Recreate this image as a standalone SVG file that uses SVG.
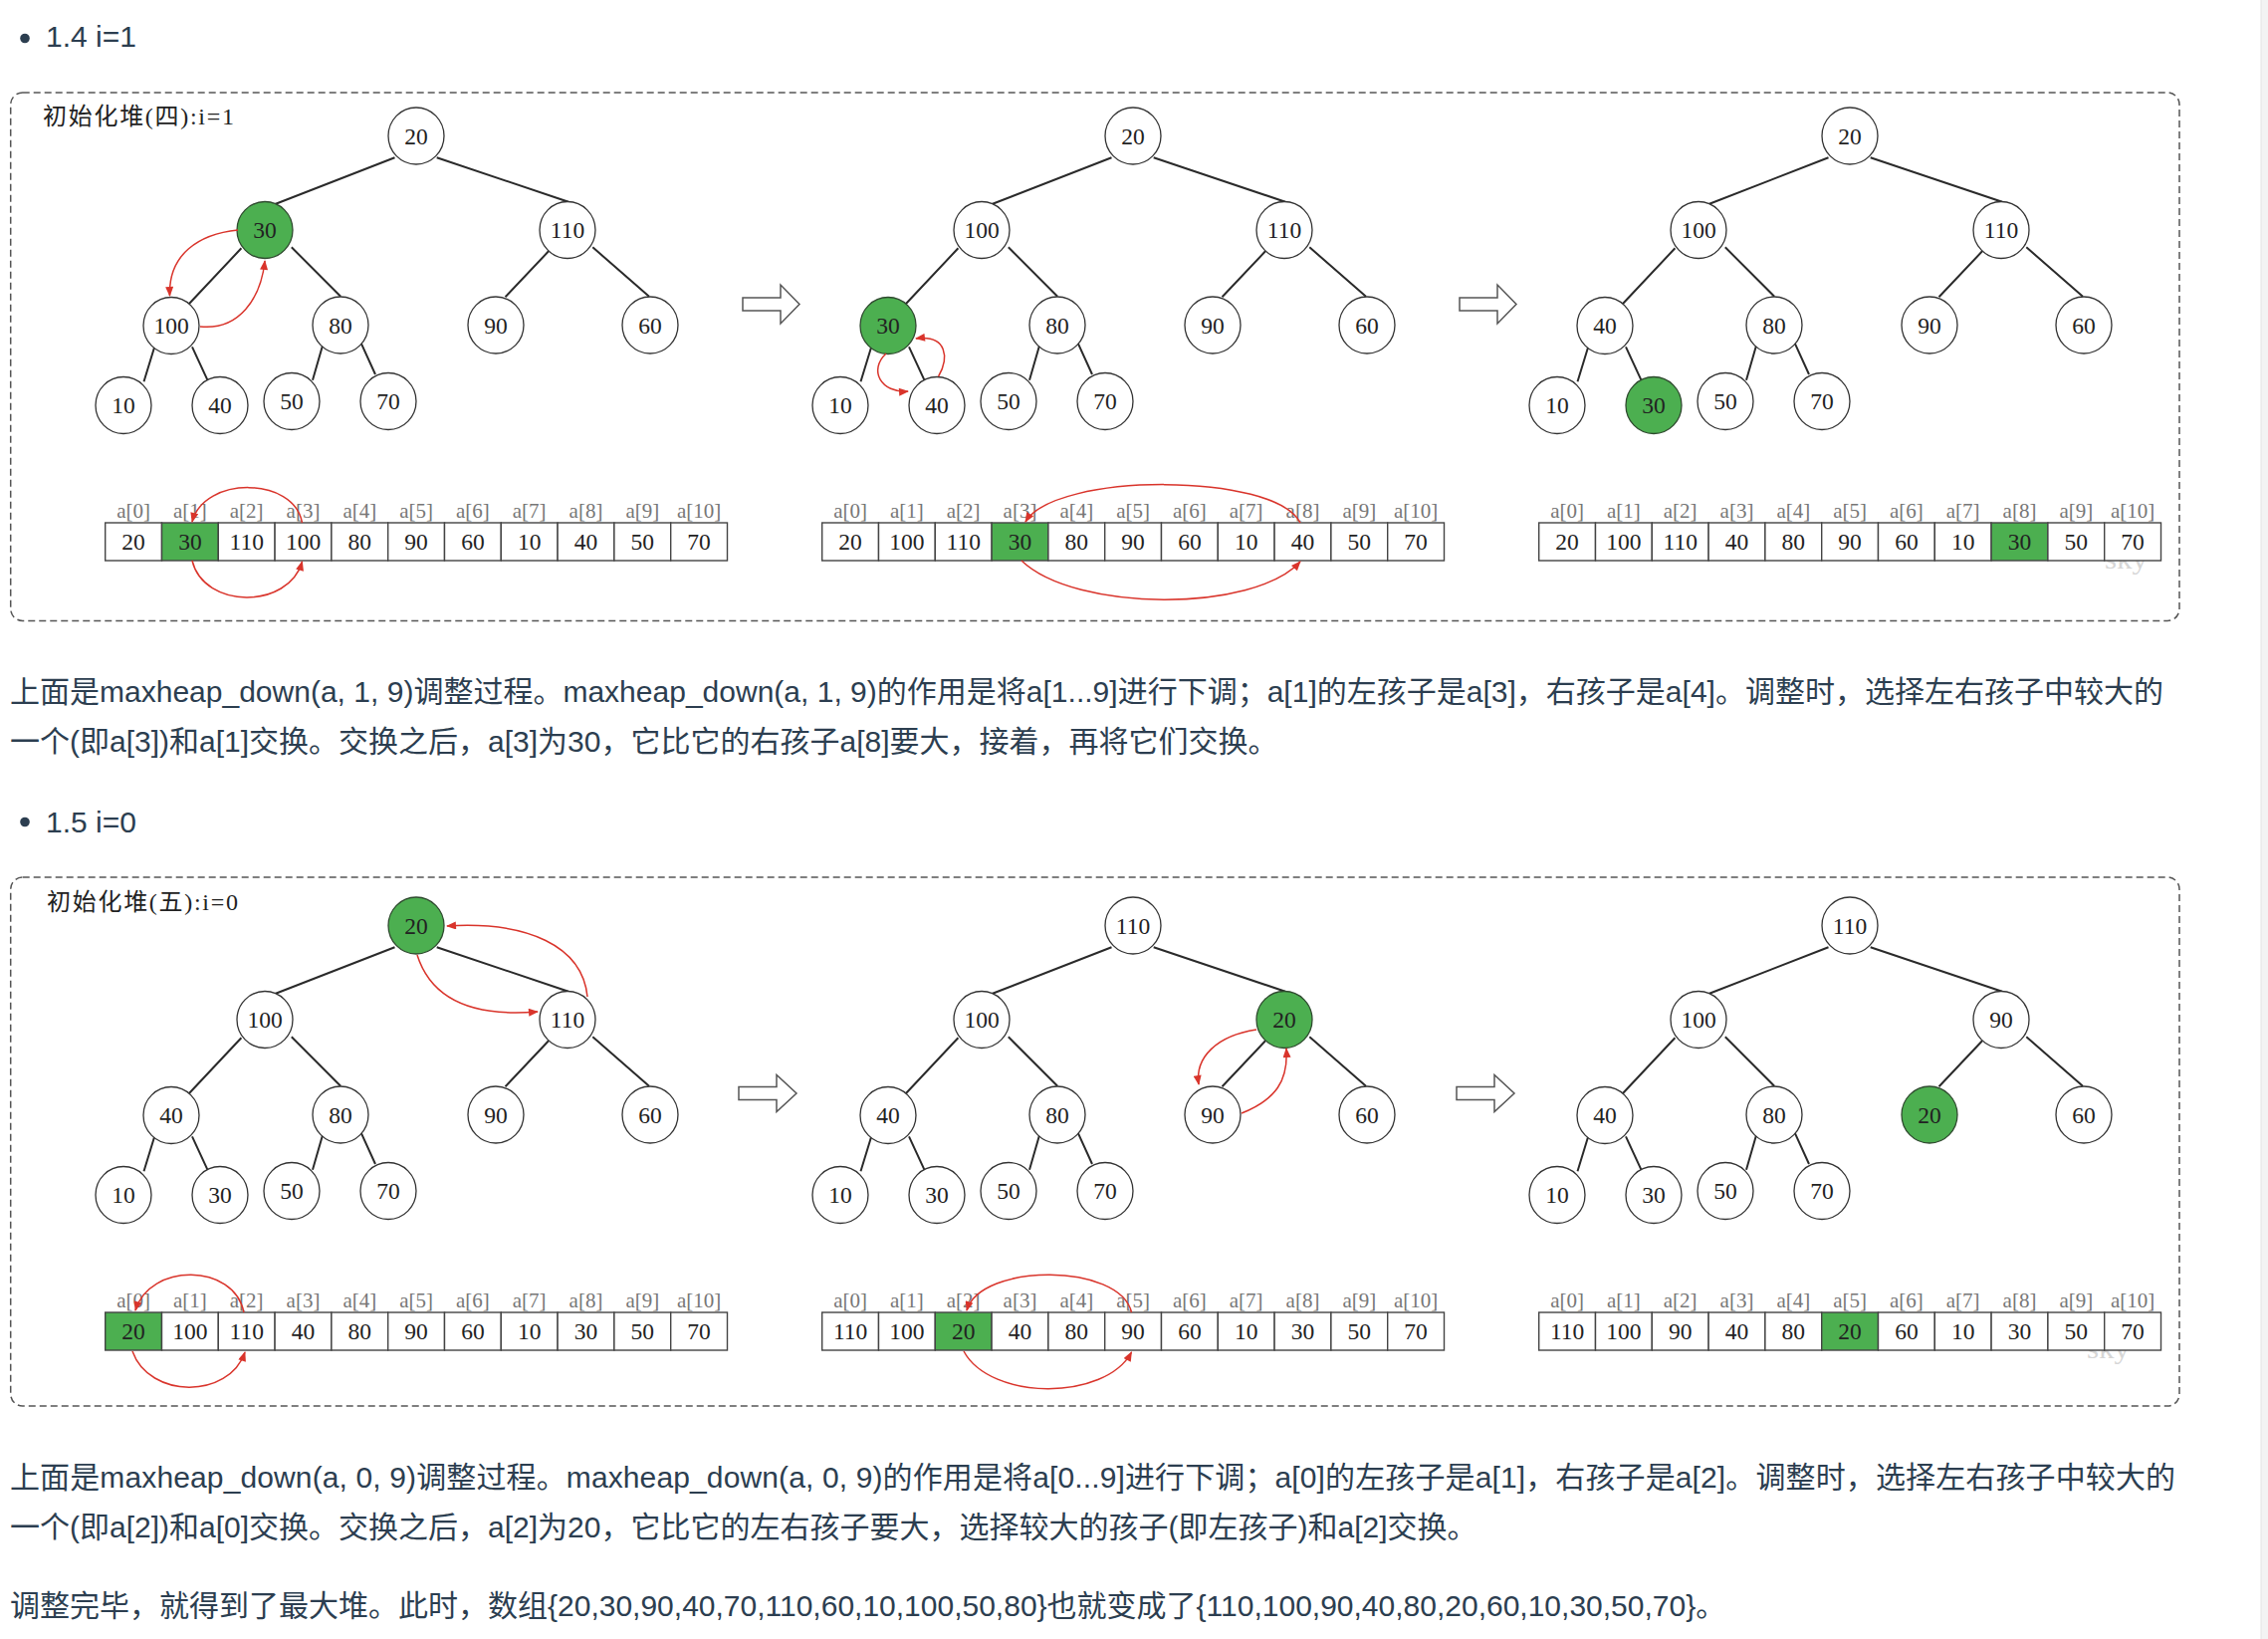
<svg xmlns="http://www.w3.org/2000/svg" width="2278" height="1646" viewBox="0 0 2278 1646">
<defs>
<style>
.ed{stroke:#2a2a2a;stroke-width:2;fill:none}
.nd ellipse{fill:#fff;stroke:#333;stroke-width:1.3}
.nd.g ellipse{fill:#4caf50;stroke:#2f4a2f}
.nd text,.ct{font-family:"Liberation Serif",serif;font-size:23.5px;fill:#222;text-anchor:middle}
.cell{fill:#fff;stroke:#444;stroke-width:1.4}
.cell.g{fill:#4caf50}
.lb{font-family:"Liberation Serif",serif;font-size:21px;fill:#777;text-anchor:middle}
.sw{fill:none;stroke:#d9342b;stroke-width:1.5;marker-end:url(#ah)}
.box{fill:none;stroke:#555;stroke-width:1.5;stroke-dasharray:7 4}
.hol{fill:#fff;stroke:#555;stroke-width:1.5}
.para{font-family:"Liberation Sans","Noto Sans CJK SC",sans-serif;font-size:30px;fill:#2c3e50}
.ttl{font-family:"Liberation Serif","Noto Sans CJK SC",serif;font-size:24px;fill:#222}
.wm{font-family:"Liberation Serif",serif;font-size:28px;fill:#d6d6d6}
</style>
<marker id="ah" viewBox="0 0 10 8" refX="9" refY="4" markerWidth="11" markerHeight="8" markerUnits="userSpaceOnUse" orient="auto"><path d="M0,0 L10,4 L0,8 z" fill="#d9342b"/></marker>
</defs>
<rect width="2278" height="1646" fill="#fff"/>
<rect x="2271" y="0" width="7" height="1646" fill="#f3f3f3"/>
<line x1="2271" y1="0" x2="2271" y2="1646" stroke="#e4e4e4" stroke-width="1"/>

<!-- headings and paragraphs -->
<circle cx="25" cy="38.5" r="4.8" fill="#2c3e50"/>
<text class="para" x="46" y="47">1.4 i=1</text>
<text class="para" x="10" y="705" textLength="2163" lengthAdjust="spacing">上面是maxheap_down(a, 1, 9)调整过程。maxheap_down(a, 1, 9)的作用是将a[1...9]进行下调；a[1]的左孩子是a[3]，右孩子是a[4]。调整时，选择左右孩子中较大的</text>
<text class="para" x="10" y="755">一个(即a[3])和a[1]交换。交换之后，a[3]为30，它比它的右孩子a[8]要大，接着，再将它们交换。</text>
<circle cx="25" cy="825.5" r="4.8" fill="#2c3e50"/>
<text class="para" x="46" y="836">1.5 i=0</text>
<text class="para" x="10" y="1494" textLength="2175" lengthAdjust="spacing">上面是maxheap_down(a, 0, 9)调整过程。maxheap_down(a, 0, 9)的作用是将a[0...9]进行下调；a[0]的左孩子是a[1]，右孩子是a[2]。调整时，选择左右孩子中较大的</text>
<text class="para" x="10" y="1544">一个(即a[2])和a[0]交换。交换之后，a[2]为20，它比它的左右孩子要大，选择较大的孩子(即左孩子)和a[2]交换。</text>
<text class="para" x="10" y="1623">调整完毕，就得到了最大堆。此时，数组{20,30,90,40,70,110,60,10,100,50,80}也就变成了{110,100,90,40,80,20,60,10,30,50,70}。</text>

<!-- frames -->
<g id="frame-1">
<rect class="box" x="10.7" y="93" width="2178.3" height="530.5" rx="12"/>
<text class="ttl" x="43" y="125" textLength="192" lengthAdjust="spacing">初始化堆(四):i=1</text>
<text class="wm" x="2114" y="571" textLength="43" lengthAdjust="spacingAndGlyphs">sky</text>
</g>
<g id="frame-2">
<rect class="box" x="10.7" y="881" width="2178.3" height="531" rx="12"/>
<text class="ttl" x="47" y="914" textLength="192" lengthAdjust="spacing">初始化堆(五):i=0</text>
<text class="wm" x="2096" y="1364" textLength="43" lengthAdjust="spacingAndGlyphs">sky</text>
</g>

<!-- connectors -->
<g id="connectors">
<g id="edges-a"><path class="ed" d="M396.5,158.3 L276.3,205 M438.7,158.3 L571,202.7 M242.4,249.3 L190,305 M292.8,248.3 L342.2,297.7 M551,252.3 L507.5,298.3 M595.3,248.3 L652,297.7 M155,349 L144.5,383.3 M193,348.3 L208.4,381.7 M323.8,347.7 L314,381.7 M362.6,344.3 L377,376"/></g>
<g id="edges-b" transform="translate(720,0)"><path class="ed" d="M396.5,158.3 L276.3,205 M438.7,158.3 L571,202.7 M242.4,249.3 L190,305 M292.8,248.3 L342.2,297.7 M551,252.3 L507.5,298.3 M595.3,248.3 L652,297.7 M155,349 L144.5,383.3 M193,348.3 L208.4,381.7 M323.8,347.7 L314,381.7 M362.6,344.3 L377,376"/></g>
<g id="edges-c" transform="translate(1440,0)"><path class="ed" d="M396.5,158.3 L276.3,205 M438.7,158.3 L571,202.7 M242.4,249.3 L190,305 M292.8,248.3 L342.2,297.7 M551,252.3 L507.5,298.3 M595.3,248.3 L652,297.7 M155,349 L144.5,383.3 M193,348.3 L208.4,381.7 M323.8,347.7 L314,381.7 M362.6,344.3 L377,376"/></g>
<g id="edges-d" transform="translate(0,793)"><path class="ed" d="M396.5,158.3 L276.3,205 M438.7,158.3 L571,202.7 M242.4,249.3 L190,305 M292.8,248.3 L342.2,297.7 M551,252.3 L507.5,298.3 M595.3,248.3 L652,297.7 M155,349 L144.5,383.3 M193,348.3 L208.4,381.7 M323.8,347.7 L314,381.7 M362.6,344.3 L377,376"/></g>
<g id="edges-e" transform="translate(720,793)"><path class="ed" d="M396.5,158.3 L276.3,205 M438.7,158.3 L571,202.7 M242.4,249.3 L190,305 M292.8,248.3 L342.2,297.7 M551,252.3 L507.5,298.3 M595.3,248.3 L652,297.7 M155,349 L144.5,383.3 M193,348.3 L208.4,381.7 M323.8,347.7 L314,381.7 M362.6,344.3 L377,376"/></g>
<g id="edges-f" transform="translate(1440,793)"><path class="ed" d="M396.5,158.3 L276.3,205 M438.7,158.3 L571,202.7 M242.4,249.3 L190,305 M292.8,248.3 L342.2,297.7 M551,252.3 L507.5,298.3 M595.3,248.3 L652,297.7 M155,349 L144.5,383.3 M193,348.3 L208.4,381.7 M323.8,347.7 L314,381.7 M362.6,344.3 L377,376"/></g>
<g id="step-arrows">
<polygon class="hol" points="746,299 784,299 784,286 803,305.5 784,325 784,312 746,312"/>
<polygon class="hol" points="1466,299 1504,299 1504,286 1523,305.5 1504,325 1504,312 1466,312"/>
<polygon class="hol" points="742,1091.5 780,1091.5 780,1079.5 800,1098 780,1116.5 780,1104.5 742,1104.5"/>
<polygon class="hol" points="1463,1091.5 1501,1091.5 1501,1079.5 1521,1098 1501,1116.5 1501,1104.5 1463,1104.5"/>
</g>
</g>

<!-- trees -->
<g id="tree-a">
<g id="a-n0" class="nd"><ellipse cx="418" cy="136.5" rx="28" ry="28.5"/><text x="418" y="144.5">20</text></g>
<g id="a-n1" class="nd g"><ellipse cx="266" cy="231" rx="28" ry="28.5"/><text x="266" y="239">30</text></g>
<g id="a-n2" class="nd"><ellipse cx="570" cy="231" rx="28" ry="28.5"/><text x="570" y="239">110</text></g>
<g id="a-n3" class="nd"><ellipse cx="172" cy="327" rx="28" ry="28.5"/><text x="172" y="335">100</text></g>
<g id="a-n4" class="nd"><ellipse cx="342" cy="326.5" rx="28" ry="28.5"/><text x="342" y="334.5">80</text></g>
<g id="a-n5" class="nd"><ellipse cx="498" cy="326.5" rx="28" ry="28.5"/><text x="498" y="334.5">90</text></g>
<g id="a-n6" class="nd"><ellipse cx="653" cy="326.5" rx="28" ry="28.5"/><text x="653" y="334.5">60</text></g>
<g id="a-n7" class="nd"><ellipse cx="124" cy="407" rx="28" ry="28.5"/><text x="124" y="415">10</text></g>
<g id="a-n8" class="nd"><ellipse cx="221" cy="407" rx="28" ry="28.5"/><text x="221" y="415">40</text></g>
<g id="a-n9" class="nd"><ellipse cx="293" cy="403" rx="28" ry="28.5"/><text x="293" y="411">50</text></g>
<g id="a-n10" class="nd"><ellipse cx="390" cy="403" rx="28" ry="28.5"/><text x="390" y="411">70</text></g>
</g>
<g id="tree-b" transform="translate(720,0)">
<g id="b-n0" class="nd"><ellipse cx="418" cy="136.5" rx="28" ry="28.5"/><text x="418" y="144.5">20</text></g>
<g id="b-n1" class="nd"><ellipse cx="266" cy="231" rx="28" ry="28.5"/><text x="266" y="239">100</text></g>
<g id="b-n2" class="nd"><ellipse cx="570" cy="231" rx="28" ry="28.5"/><text x="570" y="239">110</text></g>
<g id="b-n3" class="nd g"><ellipse cx="172" cy="327" rx="28" ry="28.5"/><text x="172" y="335">30</text></g>
<g id="b-n4" class="nd"><ellipse cx="342" cy="326.5" rx="28" ry="28.5"/><text x="342" y="334.5">80</text></g>
<g id="b-n5" class="nd"><ellipse cx="498" cy="326.5" rx="28" ry="28.5"/><text x="498" y="334.5">90</text></g>
<g id="b-n6" class="nd"><ellipse cx="653" cy="326.5" rx="28" ry="28.5"/><text x="653" y="334.5">60</text></g>
<g id="b-n7" class="nd"><ellipse cx="124" cy="407" rx="28" ry="28.5"/><text x="124" y="415">10</text></g>
<g id="b-n8" class="nd"><ellipse cx="221" cy="407" rx="28" ry="28.5"/><text x="221" y="415">40</text></g>
<g id="b-n9" class="nd"><ellipse cx="293" cy="403" rx="28" ry="28.5"/><text x="293" y="411">50</text></g>
<g id="b-n10" class="nd"><ellipse cx="390" cy="403" rx="28" ry="28.5"/><text x="390" y="411">70</text></g>
</g>
<g id="tree-c" transform="translate(1440,0)">
<g id="c-n0" class="nd"><ellipse cx="418" cy="136.5" rx="28" ry="28.5"/><text x="418" y="144.5">20</text></g>
<g id="c-n1" class="nd"><ellipse cx="266" cy="231" rx="28" ry="28.5"/><text x="266" y="239">100</text></g>
<g id="c-n2" class="nd"><ellipse cx="570" cy="231" rx="28" ry="28.5"/><text x="570" y="239">110</text></g>
<g id="c-n3" class="nd"><ellipse cx="172" cy="327" rx="28" ry="28.5"/><text x="172" y="335">40</text></g>
<g id="c-n4" class="nd"><ellipse cx="342" cy="326.5" rx="28" ry="28.5"/><text x="342" y="334.5">80</text></g>
<g id="c-n5" class="nd"><ellipse cx="498" cy="326.5" rx="28" ry="28.5"/><text x="498" y="334.5">90</text></g>
<g id="c-n6" class="nd"><ellipse cx="653" cy="326.5" rx="28" ry="28.5"/><text x="653" y="334.5">60</text></g>
<g id="c-n7" class="nd"><ellipse cx="124" cy="407" rx="28" ry="28.5"/><text x="124" y="415">10</text></g>
<g id="c-n8" class="nd g"><ellipse cx="221" cy="407" rx="28" ry="28.5"/><text x="221" y="415">30</text></g>
<g id="c-n9" class="nd"><ellipse cx="293" cy="403" rx="28" ry="28.5"/><text x="293" y="411">50</text></g>
<g id="c-n10" class="nd"><ellipse cx="390" cy="403" rx="28" ry="28.5"/><text x="390" y="411">70</text></g>
</g>
<g id="tree-d" transform="translate(0,793)">
<g id="d-n0" class="nd g"><ellipse cx="418" cy="136.5" rx="28" ry="28.5"/><text x="418" y="144.5">20</text></g>
<g id="d-n1" class="nd"><ellipse cx="266" cy="231" rx="28" ry="28.5"/><text x="266" y="239">100</text></g>
<g id="d-n2" class="nd"><ellipse cx="570" cy="231" rx="28" ry="28.5"/><text x="570" y="239">110</text></g>
<g id="d-n3" class="nd"><ellipse cx="172" cy="327" rx="28" ry="28.5"/><text x="172" y="335">40</text></g>
<g id="d-n4" class="nd"><ellipse cx="342" cy="326.5" rx="28" ry="28.5"/><text x="342" y="334.5">80</text></g>
<g id="d-n5" class="nd"><ellipse cx="498" cy="326.5" rx="28" ry="28.5"/><text x="498" y="334.5">90</text></g>
<g id="d-n6" class="nd"><ellipse cx="653" cy="326.5" rx="28" ry="28.5"/><text x="653" y="334.5">60</text></g>
<g id="d-n7" class="nd"><ellipse cx="124" cy="407" rx="28" ry="28.5"/><text x="124" y="415">10</text></g>
<g id="d-n8" class="nd"><ellipse cx="221" cy="407" rx="28" ry="28.5"/><text x="221" y="415">30</text></g>
<g id="d-n9" class="nd"><ellipse cx="293" cy="403" rx="28" ry="28.5"/><text x="293" y="411">50</text></g>
<g id="d-n10" class="nd"><ellipse cx="390" cy="403" rx="28" ry="28.5"/><text x="390" y="411">70</text></g>
</g>
<g id="tree-e" transform="translate(720,793)">
<g id="e-n0" class="nd"><ellipse cx="418" cy="136.5" rx="28" ry="28.5"/><text x="418" y="144.5">110</text></g>
<g id="e-n1" class="nd"><ellipse cx="266" cy="231" rx="28" ry="28.5"/><text x="266" y="239">100</text></g>
<g id="e-n2" class="nd g"><ellipse cx="570" cy="231" rx="28" ry="28.5"/><text x="570" y="239">20</text></g>
<g id="e-n3" class="nd"><ellipse cx="172" cy="327" rx="28" ry="28.5"/><text x="172" y="335">40</text></g>
<g id="e-n4" class="nd"><ellipse cx="342" cy="326.5" rx="28" ry="28.5"/><text x="342" y="334.5">80</text></g>
<g id="e-n5" class="nd"><ellipse cx="498" cy="326.5" rx="28" ry="28.5"/><text x="498" y="334.5">90</text></g>
<g id="e-n6" class="nd"><ellipse cx="653" cy="326.5" rx="28" ry="28.5"/><text x="653" y="334.5">60</text></g>
<g id="e-n7" class="nd"><ellipse cx="124" cy="407" rx="28" ry="28.5"/><text x="124" y="415">10</text></g>
<g id="e-n8" class="nd"><ellipse cx="221" cy="407" rx="28" ry="28.5"/><text x="221" y="415">30</text></g>
<g id="e-n9" class="nd"><ellipse cx="293" cy="403" rx="28" ry="28.5"/><text x="293" y="411">50</text></g>
<g id="e-n10" class="nd"><ellipse cx="390" cy="403" rx="28" ry="28.5"/><text x="390" y="411">70</text></g>
</g>
<g id="tree-f" transform="translate(1440,793)">
<g id="f-n0" class="nd"><ellipse cx="418" cy="136.5" rx="28" ry="28.5"/><text x="418" y="144.5">110</text></g>
<g id="f-n1" class="nd"><ellipse cx="266" cy="231" rx="28" ry="28.5"/><text x="266" y="239">100</text></g>
<g id="f-n2" class="nd"><ellipse cx="570" cy="231" rx="28" ry="28.5"/><text x="570" y="239">90</text></g>
<g id="f-n3" class="nd"><ellipse cx="172" cy="327" rx="28" ry="28.5"/><text x="172" y="335">40</text></g>
<g id="f-n4" class="nd"><ellipse cx="342" cy="326.5" rx="28" ry="28.5"/><text x="342" y="334.5">80</text></g>
<g id="f-n5" class="nd g"><ellipse cx="498" cy="326.5" rx="28" ry="28.5"/><text x="498" y="334.5">20</text></g>
<g id="f-n6" class="nd"><ellipse cx="653" cy="326.5" rx="28" ry="28.5"/><text x="653" y="334.5">60</text></g>
<g id="f-n7" class="nd"><ellipse cx="124" cy="407" rx="28" ry="28.5"/><text x="124" y="415">10</text></g>
<g id="f-n8" class="nd"><ellipse cx="221" cy="407" rx="28" ry="28.5"/><text x="221" y="415">30</text></g>
<g id="f-n9" class="nd"><ellipse cx="293" cy="403" rx="28" ry="28.5"/><text x="293" y="411">50</text></g>
<g id="f-n10" class="nd"><ellipse cx="390" cy="403" rx="28" ry="28.5"/><text x="390" y="411">70</text></g>
</g>

<!-- arrays -->
<g id="array-a">
<g class="lb"><text x="134.1" y="520">a[0]</text><text x="190.9" y="520">a[1]</text><text x="247.7" y="520">a[2]</text><text x="304.5" y="520">a[3]</text><text x="361.3" y="520">a[4]</text><text x="418.1" y="520">a[5]</text><text x="474.9" y="520">a[6]</text><text x="531.7" y="520">a[7]</text><text x="588.5" y="520">a[8]</text><text x="645.3" y="520">a[9]</text><text x="702.1" y="520">a[10]</text></g>
<rect class="cell" x="105.7" y="525" width="56.8" height="38"/><rect class="cell g" x="162.5" y="525" width="56.8" height="38"/><rect class="cell" x="219.3" y="525" width="56.8" height="38"/><rect class="cell" x="276.1" y="525" width="56.8" height="38"/><rect class="cell" x="332.9" y="525" width="56.8" height="38"/><rect class="cell" x="389.7" y="525" width="56.8" height="38"/><rect class="cell" x="446.5" y="525" width="56.8" height="38"/><rect class="cell" x="503.3" y="525" width="56.8" height="38"/><rect class="cell" x="560.1" y="525" width="56.8" height="38"/><rect class="cell" x="616.9" y="525" width="56.8" height="38"/><rect class="cell" x="673.7" y="525" width="56.8" height="38"/>
<g class="ct"><text x="134.1" y="552">20</text><text x="190.9" y="552">30</text><text x="247.7" y="552">110</text><text x="304.5" y="552">100</text><text x="361.3" y="552">80</text><text x="418.1" y="552">90</text><text x="474.9" y="552">60</text><text x="531.7" y="552">10</text><text x="588.5" y="552">40</text><text x="645.3" y="552">50</text><text x="702.1" y="552">70</text></g>
</g>
<g id="array-b" transform="translate(720,0)">
<g class="lb"><text x="134.1" y="520">a[0]</text><text x="190.9" y="520">a[1]</text><text x="247.7" y="520">a[2]</text><text x="304.5" y="520">a[3]</text><text x="361.3" y="520">a[4]</text><text x="418.1" y="520">a[5]</text><text x="474.9" y="520">a[6]</text><text x="531.7" y="520">a[7]</text><text x="588.5" y="520">a[8]</text><text x="645.3" y="520">a[9]</text><text x="702.1" y="520">a[10]</text></g>
<rect class="cell" x="105.7" y="525" width="56.8" height="38"/><rect class="cell" x="162.5" y="525" width="56.8" height="38"/><rect class="cell" x="219.3" y="525" width="56.8" height="38"/><rect class="cell g" x="276.1" y="525" width="56.8" height="38"/><rect class="cell" x="332.9" y="525" width="56.8" height="38"/><rect class="cell" x="389.7" y="525" width="56.8" height="38"/><rect class="cell" x="446.5" y="525" width="56.8" height="38"/><rect class="cell" x="503.3" y="525" width="56.8" height="38"/><rect class="cell" x="560.1" y="525" width="56.8" height="38"/><rect class="cell" x="616.9" y="525" width="56.8" height="38"/><rect class="cell" x="673.7" y="525" width="56.8" height="38"/>
<g class="ct"><text x="134.1" y="552">20</text><text x="190.9" y="552">100</text><text x="247.7" y="552">110</text><text x="304.5" y="552">30</text><text x="361.3" y="552">80</text><text x="418.1" y="552">90</text><text x="474.9" y="552">60</text><text x="531.7" y="552">10</text><text x="588.5" y="552">40</text><text x="645.3" y="552">50</text><text x="702.1" y="552">70</text></g>
</g>
<g id="array-c" transform="translate(1440,0)">
<g class="lb"><text x="134.1" y="520">a[0]</text><text x="190.9" y="520">a[1]</text><text x="247.7" y="520">a[2]</text><text x="304.5" y="520">a[3]</text><text x="361.3" y="520">a[4]</text><text x="418.1" y="520">a[5]</text><text x="474.9" y="520">a[6]</text><text x="531.7" y="520">a[7]</text><text x="588.5" y="520">a[8]</text><text x="645.3" y="520">a[9]</text><text x="702.1" y="520">a[10]</text></g>
<rect class="cell" x="105.7" y="525" width="56.8" height="38"/><rect class="cell" x="162.5" y="525" width="56.8" height="38"/><rect class="cell" x="219.3" y="525" width="56.8" height="38"/><rect class="cell" x="276.1" y="525" width="56.8" height="38"/><rect class="cell" x="332.9" y="525" width="56.8" height="38"/><rect class="cell" x="389.7" y="525" width="56.8" height="38"/><rect class="cell" x="446.5" y="525" width="56.8" height="38"/><rect class="cell" x="503.3" y="525" width="56.8" height="38"/><rect class="cell g" x="560.1" y="525" width="56.8" height="38"/><rect class="cell" x="616.9" y="525" width="56.8" height="38"/><rect class="cell" x="673.7" y="525" width="56.8" height="38"/>
<g class="ct"><text x="134.1" y="552">20</text><text x="190.9" y="552">100</text><text x="247.7" y="552">110</text><text x="304.5" y="552">40</text><text x="361.3" y="552">80</text><text x="418.1" y="552">90</text><text x="474.9" y="552">60</text><text x="531.7" y="552">10</text><text x="588.5" y="552">30</text><text x="645.3" y="552">50</text><text x="702.1" y="552">70</text></g>
</g>
<g id="array-d" transform="translate(0,793)">
<g class="lb"><text x="134.1" y="520">a[0]</text><text x="190.9" y="520">a[1]</text><text x="247.7" y="520">a[2]</text><text x="304.5" y="520">a[3]</text><text x="361.3" y="520">a[4]</text><text x="418.1" y="520">a[5]</text><text x="474.9" y="520">a[6]</text><text x="531.7" y="520">a[7]</text><text x="588.5" y="520">a[8]</text><text x="645.3" y="520">a[9]</text><text x="702.1" y="520">a[10]</text></g>
<rect class="cell g" x="105.7" y="525" width="56.8" height="38"/><rect class="cell" x="162.5" y="525" width="56.8" height="38"/><rect class="cell" x="219.3" y="525" width="56.8" height="38"/><rect class="cell" x="276.1" y="525" width="56.8" height="38"/><rect class="cell" x="332.9" y="525" width="56.8" height="38"/><rect class="cell" x="389.7" y="525" width="56.8" height="38"/><rect class="cell" x="446.5" y="525" width="56.8" height="38"/><rect class="cell" x="503.3" y="525" width="56.8" height="38"/><rect class="cell" x="560.1" y="525" width="56.8" height="38"/><rect class="cell" x="616.9" y="525" width="56.8" height="38"/><rect class="cell" x="673.7" y="525" width="56.8" height="38"/>
<g class="ct"><text x="134.1" y="552">20</text><text x="190.9" y="552">100</text><text x="247.7" y="552">110</text><text x="304.5" y="552">40</text><text x="361.3" y="552">80</text><text x="418.1" y="552">90</text><text x="474.9" y="552">60</text><text x="531.7" y="552">10</text><text x="588.5" y="552">30</text><text x="645.3" y="552">50</text><text x="702.1" y="552">70</text></g>
</g>
<g id="array-e" transform="translate(720,793)">
<g class="lb"><text x="134.1" y="520">a[0]</text><text x="190.9" y="520">a[1]</text><text x="247.7" y="520">a[2]</text><text x="304.5" y="520">a[3]</text><text x="361.3" y="520">a[4]</text><text x="418.1" y="520">a[5]</text><text x="474.9" y="520">a[6]</text><text x="531.7" y="520">a[7]</text><text x="588.5" y="520">a[8]</text><text x="645.3" y="520">a[9]</text><text x="702.1" y="520">a[10]</text></g>
<rect class="cell" x="105.7" y="525" width="56.8" height="38"/><rect class="cell" x="162.5" y="525" width="56.8" height="38"/><rect class="cell g" x="219.3" y="525" width="56.8" height="38"/><rect class="cell" x="276.1" y="525" width="56.8" height="38"/><rect class="cell" x="332.9" y="525" width="56.8" height="38"/><rect class="cell" x="389.7" y="525" width="56.8" height="38"/><rect class="cell" x="446.5" y="525" width="56.8" height="38"/><rect class="cell" x="503.3" y="525" width="56.8" height="38"/><rect class="cell" x="560.1" y="525" width="56.8" height="38"/><rect class="cell" x="616.9" y="525" width="56.8" height="38"/><rect class="cell" x="673.7" y="525" width="56.8" height="38"/>
<g class="ct"><text x="134.1" y="552">110</text><text x="190.9" y="552">100</text><text x="247.7" y="552">20</text><text x="304.5" y="552">40</text><text x="361.3" y="552">80</text><text x="418.1" y="552">90</text><text x="474.9" y="552">60</text><text x="531.7" y="552">10</text><text x="588.5" y="552">30</text><text x="645.3" y="552">50</text><text x="702.1" y="552">70</text></g>
</g>
<g id="array-f" transform="translate(1440,793)">
<g class="lb"><text x="134.1" y="520">a[0]</text><text x="190.9" y="520">a[1]</text><text x="247.7" y="520">a[2]</text><text x="304.5" y="520">a[3]</text><text x="361.3" y="520">a[4]</text><text x="418.1" y="520">a[5]</text><text x="474.9" y="520">a[6]</text><text x="531.7" y="520">a[7]</text><text x="588.5" y="520">a[8]</text><text x="645.3" y="520">a[9]</text><text x="702.1" y="520">a[10]</text></g>
<rect class="cell" x="105.7" y="525" width="56.8" height="38"/><rect class="cell" x="162.5" y="525" width="56.8" height="38"/><rect class="cell" x="219.3" y="525" width="56.8" height="38"/><rect class="cell" x="276.1" y="525" width="56.8" height="38"/><rect class="cell" x="332.9" y="525" width="56.8" height="38"/><rect class="cell g" x="389.7" y="525" width="56.8" height="38"/><rect class="cell" x="446.5" y="525" width="56.8" height="38"/><rect class="cell" x="503.3" y="525" width="56.8" height="38"/><rect class="cell" x="560.1" y="525" width="56.8" height="38"/><rect class="cell" x="616.9" y="525" width="56.8" height="38"/><rect class="cell" x="673.7" y="525" width="56.8" height="38"/>
<g class="ct"><text x="134.1" y="552">110</text><text x="190.9" y="552">100</text><text x="247.7" y="552">90</text><text x="304.5" y="552">40</text><text x="361.3" y="552">80</text><text x="418.1" y="552">20</text><text x="474.9" y="552">60</text><text x="531.7" y="552">10</text><text x="588.5" y="552">30</text><text x="645.3" y="552">50</text><text x="702.1" y="552">70</text></g>
</g>

<!-- swap arrows -->
<g id="swap-arrows">
<path class="sw" d="M239,231 C200,235 169,255 170.5,297"/>
<path class="sw" d="M201,328 C240,332 262,300 266,262"/>
<path class="sw" d="M303.5,525 C295,478 205,478 193,524"/>
<path class="sw" d="M193,563 C205,612 290,612 303.5,564"/>
<path class="sw" d="M890,355 C872,372 885,395 912,393"/>
<path class="sw" d="M942.6,378 C953,360 952,336 920,340"/>
<path class="sw" d="M1306,525 C1280,474 1060,474 1030,524"/>
<path class="sw" d="M1026,563 C1080,615 1260,615 1306,564"/>
<path class="sw" d="M419,959 C432,1000 470,1022 540,1016"/>
<path class="sw" d="M590,1001 C585,950 530,925 449,930"/>
<path class="sw" d="M245,1318 C235,1268 150,1268 136,1316"/>
<path class="sw" d="M133,1357 C150,1405 230,1405 246,1358"/>
<path class="sw" d="M1262,1034 C1222,1040 1200,1062 1204,1089"/>
<path class="sw" d="M1247,1118 C1282,1104 1294,1085 1292,1053"/>
<path class="sw" d="M1136.5,1318 C1125,1268 985,1268 971,1316"/>
<path class="sw" d="M968,1357 C995,1407 1110,1407 1136.5,1358"/>
</g>
</svg>
